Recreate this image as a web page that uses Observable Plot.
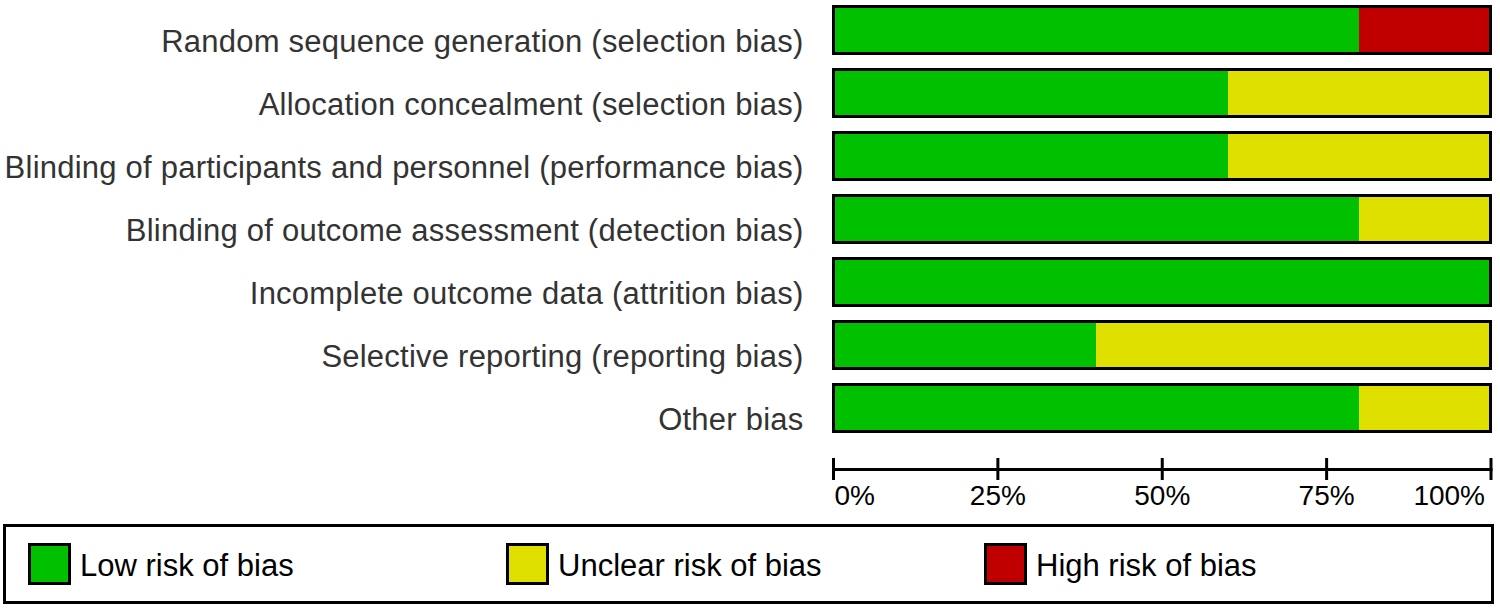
<!DOCTYPE html>
<html>
<head>
<meta charset="utf-8">
<script src="https://cdn.jsdelivr.net/npm/d3@7"></script>
<script src="https://cdn.jsdelivr.net/npm/@observablehq/plot@0.6"></script>
<style>
  html, body { margin: 0; padding: 0; background: #fff; }
  #chart svg { display: block; }
  #chart g[font-size="31"] text { letter-spacing: 0.23px; }
  #legend {
    box-sizing: border-box;
    margin: 4px 0 0 3px;
    width: 1491px;
    height: 80px;
    border: 3px solid #000;
    display: flex;
    align-items: center;
    padding-left: 22px;
    font-family: "Liberation Sans", Arial, sans-serif;
    font-size: 31px;
    color: #000;
  }
  #legend .item { width: 478px; display: flex; align-items: center; }
  #legend .item span { position: relative; top: 2px; }
  #legend .sw { box-sizing: border-box; width: 43px; height: 42px; border: 3px solid #000; margin-right: 9px; }
</style>
</head>
<body>
<div id="chart"></div>
<div id="legend"></div>
<script>
const categories = [
  "Random sequence generation (selection bias)",
  "Allocation concealment (selection bias)",
  "Blinding of participants and personnel (performance bias)",
  "Blinding of outcome assessment (detection bias)",
  "Incomplete outcome data (attrition bias)",
  "Selective reporting (reporting bias)",
  "Other bias"
];
const lowRisk     = [80, 60, 60, 80, 100, 40, 80];
const unclearRisk = [0, 40, 40, 20, 0, 60, 20];
const highRisk    = [20, 0, 0, 0, 0, 0, 0];
const riskLabels  = ["Low risk of bias", "Unclear risk of bias", "High risk of bias"];
const riskColors  = ["#00c000", "#e0e000", "#c00000"];
const xTicks      = [0, 25, 50, 75, 100];
const xTickLabels = ["0%", "25%", "50%", "75%", "100%"];

const series = [lowRisk, unclearRisk, highRisk];
const tidy = [];
categories.forEach((c, i) => {
  series.forEach((s, j) => tidy.push({domain: c, risk: riskLabels[j], value: s[i]}));
});
const totals = categories.map((c, i) => ({domain: c, total: lowRisk[i] + unclearRisk[i] + highRisk[i]}));
const tickRows = xTicks.map((t, i) => ({t, label: xTickLabels[i]}));

const chart = Plot.plot({
  width: 1500,
  height: 520,
  marginLeft: 833,
  marginRight: 9.5,
  marginTop: 0,
  marginBottom: 62,
  style: {fontFamily: "'Liberation Sans', Arial, sans-serif", background: "#fff"},
  x: {domain: [0, 100]},
  y: {domain: categories, range: [4, 433], paddingInner: 0.26, paddingOuter: 0, axis: null},
  color: {domain: riskLabels, range: riskColors},
  marks: [
    Plot.barX(tidy, Plot.stackX({x: "value", y: "domain", fill: "risk", shapeRendering: "crispEdges"})),
    Plot.barX(totals, {x1: 0, x2: "total", y: "domain", fill: "none", stroke: "#000", strokeWidth: 3, shapeRendering: "crispEdges"}),
    Plot.text(categories, {x: () => 0, y: d => d, text: d => d, textAnchor: "end", dx: -30, dy: 12, fontSize: 31, fill: "#333"}),
    Plot.axisX({ticks: xTicks, tickSize: 22, tickFormat: () => "", strokeWidth: 3}),
    Plot.frame({anchor: "bottom", dy: 11, strokeWidth: 3}),
    Plot.text(tickRows.slice(0, 1), {x: "t", text: "label", frameAnchor: "bottom", dy: 46, dx: 1, textAnchor: "start", fontSize: 28, fill: "#000"}),
    Plot.text(tickRows.slice(1, -1), {x: "t", text: "label", frameAnchor: "bottom", dy: 46, textAnchor: "middle", fontSize: 28, fill: "#000"}),
    Plot.text(tickRows.slice(-1), {x: "t", text: "label", frameAnchor: "bottom", dy: 46, dx: -6, textAnchor: "end", fontSize: 28, fill: "#000"})
  ]
});
document.getElementById("chart").appendChild(chart);

const legend = d3.select("#legend");
riskLabels.forEach((r, i) => {
  const item = legend.append("div").attr("class", "item");
  item.append("div").attr("class", "sw").style("background", riskColors[i]);
  item.append("span").text(r);
});
</script>
</body>
</html>
